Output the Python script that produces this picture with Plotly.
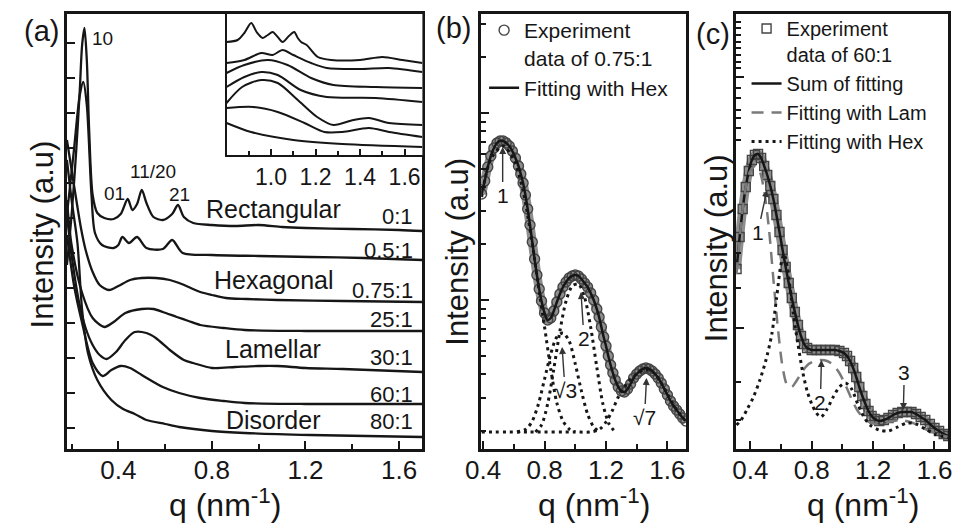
import math
import plotly.graph_objects as go

W, H = 966, 523
FONT = "Arial, 'Liberation Sans', Helvetica, sans-serif"
INK = "#161616"

# ---------------- Panel (a): offset SAXS profiles (a.u.) ----------------
q_r0 = [0.18, 0.20, 0.22, 0.235, 0.245, 0.255, 0.265, 0.275, 0.29, 0.31, 0.34, 0.38, 0.41, 0.44, 0.46, 0.48,
        0.50, 0.52, 0.55, 0.59, 0.63, 0.655, 0.68, 0.72, 0.80, 0.90, 1.00, 1.10, 1.20, 1.40, 1.60, 1.70]
I_r0 = [184, 234, 299, 359, 404, 421, 389, 319, 254, 236, 231, 230, 235, 250, 239, 245,
        259, 246, 232, 229, 235, 244, 232, 226, 224, 223, 224, 222, 221, 220, 219, 218]
q_r05 = [0.18, 0.21, 0.235, 0.25, 0.265, 0.285, 0.30, 0.33, 0.38, 0.40, 0.417, 0.445, 0.48, 0.52, 0.59, 0.63,
         0.675, 0.80, 1.00, 1.22, 1.45, 1.70]
I_r05 = [234, 299, 354, 367, 344, 254, 216, 204, 201, 204, 212, 206, 212, 201, 200, 209,
         196, 194, 193, 192, 191, 189]
q_r075 = [0.18, 0.21, 0.24, 0.26, 0.29, 0.32, 0.36, 0.40, 0.45, 0.50, 0.56, 0.62, 0.66, 0.70, 0.75, 0.80,
          0.86, 0.95, 1.08, 1.36, 1.70]
I_r075 = [309, 264, 221, 199, 177, 164, 159, 163, 169, 171, 171, 169, 166, 162, 157, 154,
          151, 150, 149, 148, 147]
q_r25 = [0.18, 0.20, 0.245, 0.29, 0.34, 0.38, 0.43, 0.50, 0.55, 0.59, 0.65, 0.70, 0.75, 0.85, 0.94, 1.20, 1.70]
I_r25 = [249, 204, 156, 131, 122, 127, 136, 140, 140, 137, 132, 128, 124, 121, 119, 118, 118]
q_r30 = [0.18, 0.20, 0.23, 0.26, 0.29, 0.32, 0.35, 0.39, 0.43, 0.47, 0.52, 0.56, 0.62, 0.68, 0.72, 0.80,
         0.90, 1.00, 1.08, 1.20, 1.36, 1.70]
I_r30 = [234, 194, 149, 121, 104, 94, 90, 97, 109, 117, 116, 111, 99, 89, 86, 81,
         82, 83, 83, 81, 80, 77]
q_r60 = [0.18, 0.21, 0.245, 0.29, 0.333, 0.37, 0.41, 0.45, 0.50, 0.59, 0.66, 0.75, 0.85, 0.94, 1.20, 1.70]
I_r60 = [214, 164, 126, 86, 73, 79, 83, 81, 74, 62, 56, 51, 48, 46, 45, 45]
q_r80 = [0.18, 0.20, 0.225, 0.245, 0.27, 0.31, 0.37, 0.42, 0.47, 0.52, 0.60, 0.66, 0.80, 0.94, 1.22, 1.70]
I_r80 = [289, 249, 206, 139, 96, 69, 49, 40, 35, 29, 25, 22, 18, 16, 14, 12]

ratio_labels = ["0:1", "0.5:1", "0.75:1", "25:1", "30:1", "60:1", "80:1"]
phase_labels = ["Rectangular", "Hexagonal", "Lamellar", "Disorder"]
peak_labels = ["10", "01", "11/20", "21"]

# inset (zoom of high-q region)
q_i1 = [0.80, 0.85, 0.88, 0.911, 0.935, 0.963, 0.985, 1.007, 1.03, 1.052, 1.08, 1.104, 1.12, 1.135, 1.16, 1.21,
        1.27, 1.40, 1.50, 1.59, 1.68]
I_i1 = [113, 115, 122, 132, 123, 117, 120, 123, 118, 113, 119, 123, 117, 113, 110, 98, 95, 95, 98, 95, 92]
q_i2 = [0.80, 0.88, 0.956, 1.007, 1.052, 1.10, 1.18, 1.25, 1.40, 1.53, 1.68]
I_i2 = [92, 95, 102, 100, 105, 100, 92, 87, 86, 87, 83]
q_i3 = [0.80, 0.88, 0.985, 1.074, 1.18, 1.28, 1.47, 1.68]
I_i3 = [82, 90, 95, 90, 77, 70, 68, 67]
q_i4 = [0.80, 0.88, 0.956, 1.03, 1.133, 1.25, 1.47, 1.68]
I_i4 = [68, 78, 83, 80, 65, 58, 57, 53]
q_i5 = [0.80, 0.87, 0.956, 1.03, 1.12, 1.207, 1.28, 1.37, 1.44, 1.53, 1.68]
I_i5 = [52, 68, 75, 72, 55, 38, 30, 35, 37, 32, 30]
q_i6 = [0.80, 0.92, 1.03, 1.15, 1.24, 1.32, 1.44, 1.53, 1.68]
I_i6 = [47, 48, 43, 32, 23, 23, 27, 23, 18]
q_i7 = [0.80, 0.91, 1.10, 1.32, 1.68]
I_i7 = [32, 23, 15, 11, 8]
inset_ticks = [1.0, 1.2, 1.4, 1.6]

# ---------------- Panel (b): 0.75:1 with Hex fitting ----------------
q_b = [0.39, 0.41, 0.43, 0.45, 0.47, 0.49, 0.51, 0.53, 0.55, 0.57,
       0.59, 0.61, 0.63, 0.645, 0.66, 0.675, 0.69, 0.705, 0.72, 0.735,
       0.75, 0.765, 0.78, 0.80, 0.82, 0.84, 0.86, 0.88, 0.90, 0.92,
       0.94, 0.96, 0.98, 1.00, 1.02, 1.04, 1.06, 1.08, 1.10, 1.12,
       1.14, 1.155, 1.17, 1.185, 1.20, 1.215, 1.23, 1.245, 1.26, 1.28,
       1.30, 1.32, 1.34, 1.36, 1.38, 1.40, 1.42, 1.44, 1.46, 1.48,
       1.50, 1.52, 1.54, 1.56, 1.58, 1.60, 1.62, 1.64, 1.66, 1.68,
       1.70, 1.72]
I_b = [255, 268, 282, 293, 301, 306, 308, 308, 306, 303,
       298, 291, 283, 275, 266, 254, 240, 224, 207, 190,
       174, 160, 148, 136, 129, 131, 138, 147, 155, 162,
       167, 171, 173, 174, 173, 170, 166, 162, 156, 149,
       140, 132, 122, 112, 103, 93, 84, 76, 69, 62,
       58, 57, 60, 65, 71, 75, 78, 80, 81, 80,
       78, 75, 71, 66, 60, 54, 48, 43, 39, 35,
       31, 28]
q_b_p1 = [0.39, 0.45, 0.53, 0.60, 0.66, 0.72, 0.77, 0.80, 0.84, 0.88, 0.92, 0.96, 1.00]
I_b_p1 = [252, 290, 303, 289, 258, 205, 152, 122, 80, 46, 28, 20, 17]
q_b_p3 = [0.62, 0.68, 0.72, 0.76, 0.80, 0.84, 0.88, 0.92, 0.96, 1.00, 1.04, 1.08, 1.12, 1.16]
I_b_p3 = [17, 20, 28, 45, 70, 95, 112, 116, 108, 85, 58, 35, 22, 17]
q_b_p2 = [0.74, 0.78, 0.82, 0.86, 0.90, 0.94, 0.98, 1.02, 1.06, 1.10, 1.14, 1.18, 1.22, 1.26]
I_b_p2 = [17, 24, 45, 80, 118, 148, 163, 165, 152, 122, 82, 45, 25, 17]
q_b_p7 = [0.39, 0.70, 1.00, 1.10, 1.16, 1.20, 1.24, 1.28, 1.32, 1.36, 1.40, 1.44, 1.48, 1.52, 1.56, 1.60,
          1.64, 1.68, 1.72]
I_b_p7 = [17, 17, 17, 17, 20, 27, 38, 52, 62, 70, 75, 79, 79, 75, 66, 55, 44, 35, 28]

# ---------------- Panel (c): 60:1 with Lam + Hex fitting ----------------
q_c = [0.31, 0.33, 0.35, 0.37, 0.39, 0.41, 0.43, 0.45, 0.47, 0.49,
       0.51, 0.53, 0.55, 0.57, 0.59, 0.61, 0.63, 0.65, 0.67, 0.69,
       0.71, 0.73, 0.75, 0.77, 0.80, 0.83, 0.86, 0.89, 0.92, 0.95,
       0.98, 1.01, 1.03, 1.05, 1.07, 1.09, 1.11, 1.13, 1.15, 1.17,
       1.19, 1.21, 1.24, 1.27, 1.30, 1.33, 1.36, 1.39, 1.42, 1.45,
       1.48, 1.51, 1.54, 1.57, 1.60, 1.63, 1.66, 1.69]
I_c = [180, 212, 240, 262, 278, 289, 294, 295, 291, 283,
       274, 263, 250, 234, 217, 199, 182, 166, 151, 137,
       124, 113, 105, 101, 99, 99, 99, 99, 99, 99,
       98, 96, 93, 88, 81, 72, 62, 53, 45, 38,
       33, 30, 28, 29, 31, 34, 36, 37, 37, 37,
       35, 32, 29, 25, 21, 18, 15, 13]
q_c_lam = [0.31, 0.35, 0.39, 0.43, 0.46, 0.49, 0.52, 0.55, 0.58, 0.61, 0.64, 0.67, 0.70, 0.74, 0.78, 0.82,
           0.86, 0.90, 0.94, 0.98, 1.02, 1.06, 1.10, 1.16, 1.22, 1.30, 1.38, 1.46, 1.54, 1.62, 1.69]
I_c_lam = [175, 240, 275, 283, 278, 258, 222, 170, 120, 82, 64, 62, 68, 78, 85, 88,
           89, 88, 84, 76, 64, 50, 38, 28, 25, 27, 29, 26, 20, 15, 12]
q_c_hex = [0.31, 0.34, 0.38, 0.42, 0.46, 0.50, 0.54, 0.57, 0.60, 0.62, 0.64, 0.66, 0.68, 0.71, 0.74, 0.77,
           0.80, 0.83, 0.86, 0.90, 0.94, 0.98, 1.02, 1.06, 1.10, 1.14, 1.18, 1.24, 1.30, 1.36, 1.42, 1.48,
           1.54, 1.60, 1.69]
I_c_hex = [24, 29, 40, 52, 68, 88, 115, 150, 185, 195, 182, 160, 135, 105, 78, 58,
           45, 36, 32, 40, 52, 62, 66, 60, 45, 32, 24, 19, 18, 22, 26, 25,
           20, 15, 11]

# ====================================================================
def px_x(p):
    return p / W


def px_y(p):
    return 1 - p / H


fig = go.Figure()

# panel (a)
for q, I in [(q_r0, I_r0), (q_r05, I_r05), (q_r075, I_r075), (q_r25, I_r25),
             (q_r30, I_r30), (q_r60, I_r60), (q_r80, I_r80)]:
    fig.add_trace(go.Scatter(x=q, y=I, mode="lines", xaxis="x", yaxis="y", showlegend=False,
                             line=dict(color=INK, width=2.3, shape="spline", smoothing=0.8)))
for q, I in [(q_i1, I_i1), (q_i2, I_i2), (q_i3, I_i3), (q_i4, I_i4), (q_i5, I_i5), (q_i6, I_i6), (q_i7, I_i7)]:
    fig.add_trace(go.Scatter(x=q, y=I, mode="lines", xaxis="x4", yaxis="y4", showlegend=False,
                             line=dict(color=INK, width=2.0, shape="spline", smoothing=0.8)))

# panel (b)
fig.add_trace(go.Scatter(x=q_b, y=I_b, mode="lines", xaxis="x2", yaxis="y2", showlegend=False,
                         line=dict(color="#8e8e8e", width=9, shape="spline")))
fig.add_trace(go.Scatter(x=q_b, y=I_b, mode="markers", xaxis="x2", yaxis="y2", legend="legend",
                         name="Experiment<br>data of 0.75:1",
                         marker=dict(symbol="circle-open", size=10, color="#444444", line=dict(width=1.4))))
fig.add_trace(go.Scatter(x=q_b, y=I_b, mode="lines", xaxis="x2", yaxis="y2", legend="legend",
                         name="Fitting with Hex", line=dict(color=INK, width=2.5, shape="spline")))
for q, I in [(q_b_p1, I_b_p1), (q_b_p3, I_b_p3), (q_b_p2, I_b_p2), (q_b_p7, I_b_p7)]:
    fig.add_trace(go.Scatter(x=q, y=I, mode="lines", xaxis="x2", yaxis="y2", showlegend=False,
                             line=dict(color=INK, width=3, dash="3px,4px", shape="spline", smoothing=0.8)))

# panel (c)
fig.add_trace(go.Scatter(x=q_c, y=I_c, mode="lines", xaxis="x3", yaxis="y3", showlegend=False,
                         line=dict(color="#8e8e8e", width=9, shape="spline")))
fig.add_trace(go.Scatter(x=q_c, y=I_c, mode="markers", xaxis="x3", yaxis="y3", legend="legend2",
                         name="Experiment<br>data of 60:1",
                         marker=dict(symbol="square-open", size=9, color="#444444", line=dict(width=1.4))))
fig.add_trace(go.Scatter(x=q_c, y=I_c, mode="lines", xaxis="x3", yaxis="y3", legend="legend2",
                         name="Sum of fitting", line=dict(color=INK, width=2.5, shape="spline")))
fig.add_trace(go.Scatter(x=q_c_lam, y=I_c_lam, mode="lines", xaxis="x3", yaxis="y3", legend="legend2",
                         name="Fitting with Lam",
                         line=dict(color="#7a7a7a", width=2.5, dash="12px,8px", shape="spline", smoothing=0.8)))
fig.add_trace(go.Scatter(x=q_c_hex, y=I_c_hex, mode="lines", xaxis="x3", yaxis="y3", legend="legend2",
                         name="Fitting with Hex",
                         line=dict(color=INK, width=3, dash="3px,4px", shape="spline", smoothing=0.8)))

# ---------------- axes ----------------
TICKFONT = dict(family=FONT, size=26, color=INK)
base = dict(showline=True, linecolor=INK, linewidth=2.5, mirror=True, showgrid=False, zeroline=False,
            ticks="inside", tickcolor=INK, tickwidth=2, ticklen=8, tickfont=TICKFONT)
Y0, Y1 = px_y(449), px_y(14)

xa = dict(base, tickmode="linear", tick0=0.4, dtick=0.4, tickformat=".1f", ticklabelstandoff=-4,
          minor=dict(ticks="inside", tick0=0.4, dtick=0.2, ticklen=5, tickwidth=2, tickcolor=INK))
fig.update_layout(
    xaxis=dict(xa, domain=[px_x(52), px_x(415)], range=[0.18, 1.70], anchor="y"),
    yaxis=dict(base, domain=[Y0, Y1], range=[0, 435], tickmode="linear", tick0=21, dtick=35,
               showticklabels=False, anchor="x"),
    xaxis2=dict(xa, domain=[px_x(475), px_x(684)], range=[0.387, 1.72], anchor="y2"),
    xaxis3=dict(xa, domain=[px_x(735), px_x(952)], range=[0.305, 1.69], anchor="y3"),
    xaxis4=dict(showline=True, linecolor=INK, linewidth=2, mirror=False, showgrid=False, zeroline=False,
                ticks="inside", tickcolor=INK, tickwidth=1.5, ticklen=6, tickmode="array",
                tickvals=inset_ticks, ticktext=[f"{t:.1f}" for t in inset_ticks],
                tickfont=dict(family=FONT, size=23, color=INK),
                minor=dict(ticks="inside", tick0=0.9, dtick=0.1, ticklen=4, tickwidth=1.5, tickcolor=INK),
                domain=[px_x(215), px_x(415)], range=[0.8, 1.68], anchor="y4"),
    yaxis4=dict(showline=True, linecolor=INK, linewidth=2, showgrid=False, zeroline=False, ticks="",
                showticklabels=False, domain=[px_y(155), Y1], range=[0, 141], anchor="x4"),
)

# pseudo-log ticks for (b)
b_minor = []
for d in (-1, 0, 1):
    for k in range(2, 10):
        v = 149 + 187 * (d + math.log10(k))
        if 0 < v < 435:
            b_minor.append(v)
fig.update_layout(
    yaxis2=dict(base, domain=[Y0, Y1], range=[0, 435], tickmode="array", tickvals=[149, 336],
                showticklabels=False, anchor="x2",
                minor=dict(ticks="inside", tickmode="array", tickvals=b_minor, ticklen=5, tickwidth=2,
                           tickcolor=INK)),
    yaxis3=dict(base, domain=[Y0, Y1], range=[0, 435], tickmode="array", tickvals=[121, 372],
                showticklabels=False, anchor="x3",
                minor=dict(ticks="inside", tickmode="array",
                           tickvals=[427, 421, 414, 407, 401, 394, 387, 381, 361, 351, 339, 331, 321, 309,
                                     196, 161, 67, 29],
                           ticklen=5, tickwidth=2, tickcolor=INK)),
)

# ---------------- legends ----------------
LEGFONT = dict(family=FONT, size=21, color=INK)
fig.update_layout(
    legend=dict(x=px_x(478), y=px_y(10), xanchor="left", yanchor="top", font=LEGFONT,
                bgcolor="rgba(0,0,0,0)", valign="top", tracegroupgap=0, itemwidth=30),
    legend2=dict(x=px_x(746), y=px_y(9), xanchor="left", yanchor="top", font=dict(LEGFONT, size=20),
                 bgcolor="rgba(0,0,0,0)", valign="top", tracegroupgap=0, itemwidth=30),
)

# ---------------- annotations ----------------
ann = []


def txt(s, px, py, size, angle=0, xanchor="center"):
    ann.append(dict(text=s, x=px_x(px), y=px_y(py), xref="paper", yref="paper", showarrow=False,
                    textangle=angle, xanchor=xanchor, yanchor="middle",
                    font=dict(family=FONT, size=size, color=INK)))


def arrow(s, q, h, xr, yr, ax, ay, size=21):
    ann.append(dict(text=s, x=q, y=h, xref=xr, yref=yr, showarrow=True, arrowhead=2, arrowsize=1,
                    arrowwidth=1.4, arrowcolor="#333", ax=ax, ay=ay,
                    font=dict(family=FONT, size=size, color=INK)))


# panel letters
txt("(a)", 26, 31, 29)
txt("(b)", 447, 28, 29)
txt("(c)", 712, 34, 29)
# axis titles
for cx in (213, 590, 865):
    txt("q (nm<sup>-1</sup>)", cx, 503, 32)
for cx, cy in ((27, 234), (451, 252), (715, 248)):
    txt("Intensity (a.u)", cx, cy, 31, angle=-90)
# panel (a) text
txt(peak_labels[0], 88, 38, 19)
txt(peak_labels[1], 101, 193, 19)
txt(peak_labels[2], 140, 172, 19)
txt(peak_labels[3], 167, 194, 19)
txt(phase_labels[0], 263, 209, 25)
txt(phase_labels[1], 263, 280, 25)
txt(phase_labels[2], 262, 349, 25)
txt(phase_labels[3], 262, 420, 25)
for lab, cy in zip(ratio_labels, (216, 250, 290, 319, 357, 394, 421)):
    txt(lab, 407, cy, 22, xanchor="right")

# panel (b) arrows
arrow("1", 0.527, 302, "x2", "y2", 0, 48)
arrow("2", 1.037, 157, "x2", "y2", 3, 46)
arrow("√3", 0.914, 102, "x2", "y2", 3, 43)
arrow("√7", 1.464, 71, "x2", "y2", -2, 39)
# panel (c) arrows
arrow("1", 0.508, 259, "x3", "y3", -9, 42)
arrow("2", 0.863, 89, "x3", "y3", -1, 42)
arrow("3", 1.397, 39, "x3", "y3", 1, -38)

fig.update_layout(
    annotations=ann,
    width=W, height=H, margin=dict(l=0, r=0, t=0, b=0),
    paper_bgcolor="white", plot_bgcolor="white",
    font=dict(family=FONT, color=INK),
)

fig.write_html("out.html")
